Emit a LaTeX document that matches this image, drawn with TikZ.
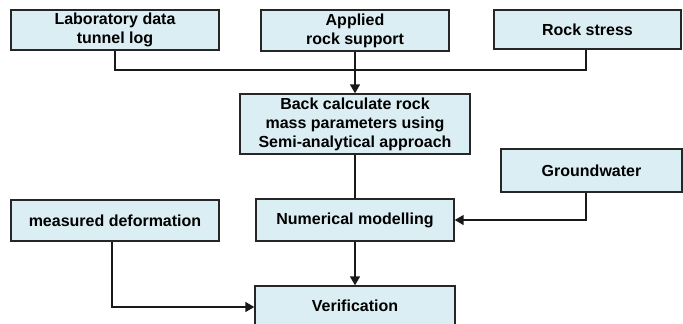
\documentclass[tikz,border=0pt]{standalone}
\usepackage{fontspec}
\setmainfont{Liberation Sans}
\usetikzlibrary{arrows.meta}
\definecolor{boxfill}{RGB}{219,238,244}
\tikzset{
  box/.style={draw=black!85, line width=1.4bp, fill=boxfill, inner sep=0pt,
    font=\fontsize{16bp}{18.8bp}\selectfont\bfseries, align=center},
  conn/.style={draw=black!90, line width=1.5bp},
  arr/.style={conn, -{Triangle[length=9bp,width=10bp]}}
}
\begin{document}
\begin{tikzpicture}[x=1bp,y=-1bp]
\useasboundingbox (0,0) rectangle (683,323);
\fill[white] (0,0) rectangle (683,323);
\node[box, minimum width=208bp, minimum height=40bp] (lab) at (115,30) {Laboratory data\\tunnel log};
\node[box, minimum width=188bp, minimum height=41bp] (app) at (355,30.5) {Applied\\rock support};
\node[box, minimum width=187bp, minimum height=39bp] (rock) at (587.5,29.5) {Rock stress};
\node[box, minimum width=230bp, minimum height=60bp, font=\fontsize{16bp}{19bp}\selectfont\bfseries] (back) at (355,124) {Back calculate rock\\mass parameters using\\Semi-analytical approach};
\node[box, minimum width=181bp, minimum height=43bp] (gw) at (591.5,170.5) {Groundwater};
\node[box, minimum width=198bp, minimum height=42bp] (num) at (355,220) {Numerical modelling};
\node[box, minimum width=208bp, minimum height=41bp] (meas) at (115,220.5) {measured deformation};
\node[box, minimum width=200bp, minimum height=39bp] (ver) at (355,305.5) {Verification};
\coordinate (j) at (355,70);
\draw[conn] (lab.south) |- (j) -| ([xshift=-1.5bp]rock.south);
\draw[arr] (app.south) -- (back.north);
\draw[conn] (back.south) -- (num.north);
\draw[arr] ([xshift=-5.5bp]gw.south) |- (num.east);
\draw[arr] (num.south) -- (ver.north);
\draw[arr] ([xshift=-3bp]meas.south) |- ([yshift=-1.5bp]ver.west);
\end{tikzpicture}
\end{document}
